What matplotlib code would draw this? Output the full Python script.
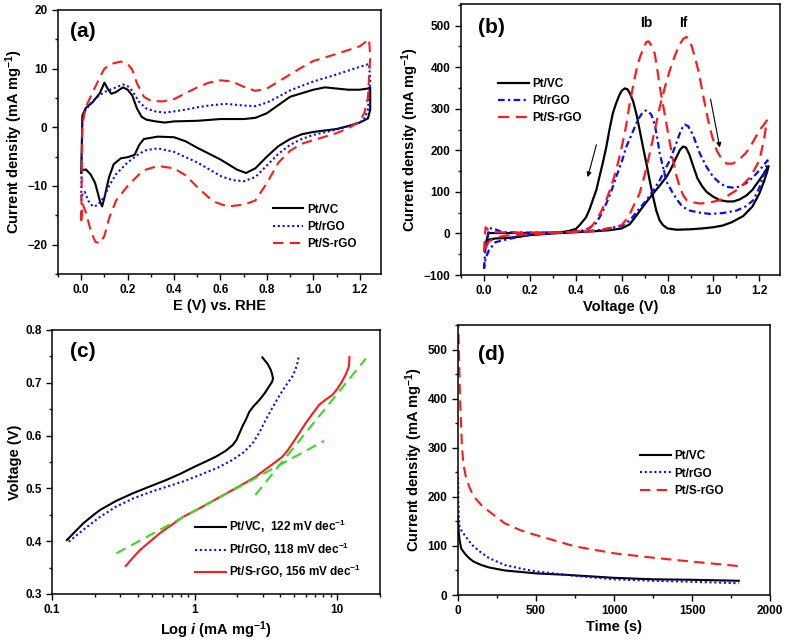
import matplotlib
matplotlib.use("Agg")
import matplotlib.pyplot as plt
from matplotlib.ticker import MultipleLocator, FuncFormatter, LogLocator

plt.rcParams['font.family'] = ['Liberation Sans', 'DejaVu Sans']
plt.rcParams['font.weight'] = 'bold'
plt.rcParams['axes.labelweight'] = 'bold'
plt.rcParams['mathtext.fontset'] = 'custom'
plt.rcParams['mathtext.rm'] = 'Liberation Sans:bold'
plt.rcParams['mathtext.it'] = 'Liberation Sans:bold:italic'
plt.rcParams['mathtext.bf'] = 'Liberation Sans:bold'

BLACK, BLUE, RED, GREEN = 'black', '#0a0aff', '#ff1a1a', '#33dd22'
labels = ['Pt/VC', 'Pt/rGO', 'Pt/S-rGO']

# ---------------- (a) CV in N2 ----------------
a_vc_e = [0.0, 0.005, 0.02, 0.05, 0.08, 0.1, 0.115, 0.13, 0.15, 0.18, 0.2, 0.22, 0.24,
          0.26, 0.28, 0.32, 0.36, 0.4, 0.5, 0.6, 0.7, 0.75, 0.8, 0.85, 0.9, 0.95, 1.0,
          1.05, 1.1, 1.15, 1.2, 1.235, 1.245, 1.245, 1.235, 1.2, 1.15, 1.1, 1.0, 0.95,
          0.9, 0.85, 0.8, 0.75, 0.71, 0.67, 0.6, 0.5, 0.45, 0.4, 0.33, 0.27, 0.25, 0.23,
          0.2, 0.17, 0.14, 0.12, 0.1, 0.09, 0.08, 0.06, 0.04, 0.02, 0.005]
a_vc_j = [-7.8, 2.0, 3.3, 4.3, 5.8, 7.6, 6.5, 5.7, 6.0, 6.8, 6.4, 5.4, 3.2,
          1.8, 1.3, 1.0, 0.8, 1.0, 1.1, 1.4, 1.4, 1.6, 2.4, 3.8, 5.2, 5.8, 6.4,
          6.8, 6.6, 6.4, 6.4, 6.6, 6.8, 3.0, 1.5, 0.8, 0.2, -0.3, -0.8, -1.2,
          -2.0, -3.2, -5.0, -7.0, -7.8, -7.2, -5.5, -3.5, -2.4, -1.7, -1.6, -2.0, -3.0, -4.7,
          -5.1, -5.3, -6.3, -8.5, -12.0, -13.5, -12.5, -9.5, -8.0, -7.2, -7.3]

a_rgo_e = [0.0, 0.005, 0.02, 0.05, 0.08, 0.1, 0.13, 0.15, 0.18, 0.2, 0.22, 0.25, 0.28,
           0.32, 0.36, 0.4, 0.45, 0.5, 0.55, 0.62, 0.7, 0.75, 0.8, 0.85, 0.9, 1.0, 1.1,
           1.2, 1.24, 1.245, 1.235, 1.22, 1.2, 1.15, 1.1, 1.0, 0.95, 0.9, 0.85, 0.8, 0.75,
           0.7, 0.65, 0.6, 0.5, 0.4, 0.33, 0.28, 0.25, 0.2, 0.15, 0.12, 0.1, 0.07, 0.05,
           0.03, 0.015, 0.005, 0.0]
a_rgo_j = [-12.0, 1.5, 3.0, 4.5, 5.5, 6.0, 6.5, 6.8, 7.3, 7.0, 6.2, 4.3, 3.2,
           2.7, 2.5, 2.7, 3.0, 3.4, 3.7, 4.0, 3.7, 3.6, 4.2, 5.2, 6.3, 7.8, 9.0,
           10.3, 10.8, 8.0, 3.0, 1.5, 0.8, 0.2, -0.4, -1.3, -2.0, -3.0, -4.5, -6.5, -8.5,
           -9.2, -9.0, -8.3, -6.0, -4.2, -3.6, -3.9, -4.5, -6.0, -8.0, -10.0, -11.8, -13.3, -13.5,
           -12.5, -11.0, -11.5, -12.5]

a_srgo_e = [0.0, 0.005, 0.02, 0.05, 0.08, 0.1, 0.13, 0.17, 0.2, 0.22, 0.24, 0.27, 0.3,
            0.35, 0.4, 0.45, 0.5, 0.55, 0.6, 0.65, 0.7, 0.75, 0.8, 0.85, 0.9, 0.95, 1.0,
            1.1, 1.2, 1.24, 1.245, 1.235, 1.22, 1.2, 1.15, 1.1, 1.0, 0.95, 0.9, 0.85, 0.8,
            0.75, 0.7, 0.63, 0.58, 0.55, 0.5, 0.45, 0.4, 0.33, 0.28, 0.25, 0.2, 0.15, 0.12,
            0.1, 0.08, 0.06, 0.04, 0.02, 0.005, 0.0]
a_srgo_j = [-16.0, 0.5, 3.5, 6.0, 8.5, 10.0, 10.8, 11.2, 10.8, 9.8, 7.5, 5.2, 4.5,
            4.4, 4.8, 5.8, 6.8, 7.6, 8.0, 7.8, 6.9, 6.2, 6.6, 7.8, 9.0, 10.2, 11.3,
            12.5, 13.8, 15.0, 12.0, 5.0, 2.5, 1.0, -0.2, -1.0, -2.2, -2.8, -4.0, -6.0, -9.5,
            -12.5, -13.2, -13.5, -12.8, -12.0, -10.2, -8.2, -7.0, -6.6, -7.2, -8.0, -10.0, -12.5, -15.5,
            -18.5, -19.8, -19.5, -17.5, -14.5, -13.0, -16.0]

# ---------------- (b) methanol oxidation CV ----------------
b_vc_e = [0.005, 0.02, 0.05, 0.1, 0.15, 0.2, 0.3, 0.4, 0.5, 0.55, 0.6, 0.635, 0.66,
          0.68, 0.7, 0.737, 0.77, 0.795, 0.81, 0.824, 0.84, 0.855, 0.868, 0.88, 0.895,
          0.91, 0.93, 0.95, 0.97, 1.0, 1.028, 1.06, 1.087, 1.115, 1.145, 1.17, 1.189,
          1.215, 1.24, 1.235, 1.22, 1.2, 1.17, 1.13, 1.08, 1.04, 1.0, 0.95, 0.9, 0.84,
          0.8, 0.78, 0.765, 0.751, 0.737, 0.722, 0.708, 0.693, 0.678, 0.664, 0.65, 0.635,
          0.625, 0.613, 0.6, 0.59, 0.575, 0.561, 0.547, 0.533, 0.518, 0.503, 0.49, 0.474,
          0.46, 0.445, 0.42, 0.401, 0.37, 0.35, 0.3, 0.2, 0.1, 0.05, 0.02, 0.005]
b_vc_j = [-29, -15, -12, -11, -8, -4, 0, 3, 6, 8, 12, 22, 40,
          55, 70, 96, 118, 136, 150, 166, 185, 202, 209, 207, 190,
          165, 133, 114, 100, 88, 80, 77, 77, 82, 92, 105, 120,
          140, 162, 150, 125, 96, 65, 42, 27, 19, 15, 12, 10, 9,
          12, 20, 32, 55, 88, 128, 168, 208, 250, 288, 318, 338,
          347, 349, 343, 333, 312, 288, 250, 208, 170, 136, 105, 80,
          58, 39, 22, 11, 6, 4, 2, 1, 1, 1, 1, -29]

b_rgo_e = [0.0, 0.007, 0.022, 0.036, 0.08, 0.2, 0.3, 0.4, 0.5, 0.6, 0.635, 0.67, 0.708,
           0.74, 0.766, 0.79, 0.81, 0.83, 0.853, 0.865, 0.875, 0.89, 0.91, 0.941, 0.97,
           0.999, 1.03, 1.058, 1.09, 1.116, 1.145, 1.174, 1.205, 1.236, 1.23, 1.2, 1.174,
           1.14, 1.1, 1.04, 0.985, 0.94, 0.897, 0.87, 0.86, 0.84, 0.82, 0.795, 0.78, 0.766,
           0.755, 0.744, 0.73, 0.715, 0.705, 0.69, 0.676, 0.664, 0.645, 0.62, 0.6, 0.576,
           0.555, 0.533, 0.51, 0.489, 0.46, 0.43, 0.4, 0.3, 0.2, 0.11, 0.05, 0.022, 0.007, 0.0]
b_rgo_j = [-85, -33, 11, 13, 3, 2, 2, 4, 8, 18, 31, 55, 80,
           105, 128, 155, 176, 205, 240, 255, 262, 258, 238, 192, 160,
           136, 120, 112, 110, 113, 122, 136, 155, 176, 160, 110, 80,
           65, 55, 49, 47, 50, 55, 63, 68, 82, 100, 125, 160, 192,
           230, 262, 285, 295, 296, 290, 278, 265, 240, 208, 172, 136,
           102, 72, 45, 25, 13, 7, 4, 1, -3, -13, -21, -40, -60, -85]

b_srgo_e = [0.0, 0.007, 0.02, 0.05, 0.1, 0.2, 0.3, 0.4, 0.5, 0.6, 0.63, 0.649, 0.678,
            0.7, 0.722, 0.745, 0.766, 0.79, 0.81, 0.83, 0.85, 0.868, 0.883, 0.9, 0.919,
            0.935, 0.948, 0.963, 0.977, 0.995, 1.014, 1.035, 1.058, 1.085, 1.116, 1.14,
            1.16, 1.18, 1.2, 1.22, 1.233, 1.22, 1.2, 1.18, 1.16, 1.13, 1.1, 1.06, 1.028,
            0.98, 0.941, 0.91, 0.883, 0.868, 0.853, 0.838, 0.824, 0.81, 0.795, 0.78, 0.766,
            0.755, 0.744, 0.73, 0.718, 0.708, 0.695, 0.68, 0.664, 0.65, 0.635, 0.625, 0.613,
            0.595, 0.576, 0.555, 0.533, 0.51, 0.489, 0.47, 0.45, 0.4, 0.3, 0.2, 0.1,
            0.05, 0.02, 0.0]
b_srgo_j = [-45, 15, 8, 3, 2, 2, 2, 4, 6, 20, 40, 63, 96,
            140, 192, 250, 304, 355, 393, 425, 452, 468, 473, 460, 425,
            390, 353, 310, 272, 232, 200, 180, 168, 168, 180, 193,
            208, 228, 248, 262, 272, 225, 176, 155, 136, 118, 104, 90, 80,
            74, 72, 75, 80, 92, 112, 140, 176, 218, 264, 310, 353,
            395, 433, 452, 462, 461, 445, 425, 393, 355, 313, 278, 240,
            195, 152, 114, 80, 52, 31, 18, 10, 4, 1, -2, -5,
            -10, -20, -45]

# ---------------- (c) Tafel ----------------
c_vc_i = [0.127, 0.145, 0.166, 0.19, 0.217, 0.28, 0.371, 0.5, 0.635, 0.8, 1.0, 1.2, 1.41,
          1.65, 1.85, 1.97, 2.06, 2.17, 2.29, 2.42, 2.6, 2.84, 3.1, 3.33, 3.5, 3.55, 3.5,
          3.43, 3.25, 2.99]
c_vc_v = [0.402, 0.418, 0.434, 0.447, 0.459, 0.476, 0.491, 0.505, 0.516, 0.528, 0.541,
          0.551, 0.560, 0.571, 0.582, 0.592, 0.604, 0.618, 0.630, 0.645, 0.656, 0.667,
          0.680, 0.693, 0.702, 0.708, 0.716, 0.724, 0.736, 0.748]
c_rgo_i = [0.131, 0.17, 0.217, 0.28, 0.371, 0.5, 0.635, 0.85, 1.08, 1.45, 1.85, 2.2,
           2.55, 2.85, 3.16, 3.5, 3.9, 4.35, 4.85, 5.1, 5.26, 5.4]
c_rgo_v = [0.399, 0.424, 0.446, 0.465, 0.481, 0.494, 0.503, 0.514, 0.525, 0.539, 0.554,
           0.568, 0.585, 0.606, 0.630, 0.652, 0.674, 0.694, 0.712, 0.725, 0.737, 0.753]
c_srgo_i = [0.329, 0.37, 0.413, 0.49, 0.57, 0.7, 0.83, 1.08, 1.4, 1.85, 2.25, 2.68, 3.0,
            3.33, 3.7, 4.13, 4.5, 4.85, 5.4, 6.0, 6.7, 7.47, 8.3, 9.26, 10.0, 10.8, 11.5,
            12.1, 12.2]
c_srgo_v = [0.353, 0.369, 0.383, 0.400, 0.415, 0.432, 0.446, 0.462, 0.479, 0.497, 0.510,
            0.522, 0.532, 0.541, 0.550, 0.560, 0.572, 0.585, 0.604, 0.623, 0.641, 0.658,
            0.668, 0.677, 0.688, 0.702, 0.716, 0.731, 0.749]
c_fit1_i = [0.283, 8.11]
c_fit1_v = [0.377, 0.590]
c_fit2_i = [2.67, 15.9]
c_fit2_v = [0.4875, 0.746]
c_labels = ['Pt/VC,  122 mV dec$^{-1}$', 'Pt/rGO, 118 mV dec$^{-1}$',
            'Pt/S-rGO, 156 mV dec$^{-1}$']

# ---------------- (d) chronoamperometry ----------------
d_vc_t = [0, 2, 5, 10, 20, 35, 50, 75, 100, 150, 200, 300, 400, 500, 700, 1000, 1250,
          1500, 1800]
d_vc_j = [155, 140, 125, 112, 95, 88, 82, 74, 68, 61, 56, 50, 47, 44, 41, 35, 32, 31, 29]
d_rgo_t = [0, 2, 5, 10, 25, 50, 75, 100, 150, 200, 300, 400, 500, 750, 1000, 1250, 1500,
           1800]
d_rgo_j = [240, 190, 160, 139, 129, 119, 108, 99, 86, 75, 61, 54, 48, 39, 32, 29, 27, 24]
d_srgo_t = [0, 3, 6, 13, 25, 35, 50, 75, 100, 150, 200, 300, 400, 500, 750, 1000, 1250,
            1500, 1800]
d_srgo_j = [600, 540, 494, 398, 303, 265, 241, 218, 201, 183, 170, 146, 132, 122, 99, 85,
            76, 68, 59]

fig = plt.figure(figsize=(7.87, 6.4), dpi=100)
ax_a = fig.add_axes([0.0737, 0.572, 0.410, 0.4125])
ax_b = fig.add_axes([0.5858, 0.5703, 0.4053, 0.4234])
ax_c = fig.add_axes([0.0661, 0.0719, 0.4168, 0.4125])
ax_d = fig.add_axes([0.582, 0.0703, 0.3964, 0.4219])

ylab = 'Current density (mA mg$^{-1}$)'
styles = [dict(color=BLACK, ls='-'),
          dict(color=BLUE, ls=(0, (1, 1.3))),
          dict(color=RED, ls=(0, (5, 3)))]


def style_axis(ax):
    for s in ax.spines.values():
        s.set_linewidth(1.1)
    ax.tick_params(which='both', direction='out', labelsize=8.5, width=1,
                   top=False, right=False)
    ax.tick_params(which='major', length=4)
    ax.tick_params(which='minor', length=2.5)
    for lab in ax.get_xticklabels() + ax.get_yticklabels():
        lab.set_fontweight('bold')


def panel_legend(ax, x, y):
    ax.legend(loc='center left', bbox_to_anchor=(x, y), frameon=False,
              fontsize=8.5, handlelength=2.6, handletextpad=0.3,
              labelspacing=0.45, borderpad=0, borderaxespad=0)


# (a)
for e, j, st, lab in zip([a_vc_e, a_rgo_e, a_srgo_e], [a_vc_j, a_rgo_j, a_srgo_j],
                         styles, labels):
    ax_a.plot(e, j, lw=1.5, label=lab, **st)
ax_a.set_xlim(-0.1, 1.29)
ax_a.set_ylim(-25, 20)
ax_a.xaxis.set_major_locator(MultipleLocator(0.2))
ax_a.xaxis.set_minor_locator(MultipleLocator(0.1))
ax_a.yaxis.set_major_locator(MultipleLocator(10))
ax_a.yaxis.set_minor_locator(MultipleLocator(5))
ax_a.xaxis.set_major_formatter(FuncFormatter(lambda v, p: f'{v:.1f}'))
ax_a.set_xlabel('E (V) vs. RHE', fontsize=10.5, labelpad=2)
ax_a.set_ylabel(ylab, fontsize=10.5, labelpad=2)
panel_legend(ax_a, 0.665, 0.178)
ax_a.text(0.037, 0.92, '(a)', transform=ax_a.transAxes, fontsize=15,
          fontweight='bold', va='center', ha='left')

# (b)
b_styles = [dict(color=BLACK, ls='-'),
            dict(color=BLUE, ls=(0, (3, 1.5, 1, 1.5))),
            dict(color=RED, ls=(0, (5, 3)))]
for e, j, st, lab in zip([b_vc_e, b_rgo_e, b_srgo_e], [b_vc_j, b_rgo_j, b_srgo_j],
                         b_styles, labels):
    ax_b.plot(e, j, lw=1.6, label=lab, **st)
ax_b.set_xlim(-0.1, 1.29)
ax_b.set_ylim(-100, 552)
ax_b.xaxis.set_major_locator(MultipleLocator(0.2))
ax_b.xaxis.set_minor_locator(MultipleLocator(0.1))
ax_b.yaxis.set_major_locator(MultipleLocator(100))
ax_b.yaxis.set_minor_locator(MultipleLocator(50))
ax_b.xaxis.set_major_formatter(FuncFormatter(lambda v, p: f'{v:.1f}'))
ax_b.set_xlabel('Voltage (V)', fontsize=10.5, labelpad=2)
ax_b.set_ylabel(ylab, fontsize=10.5, labelpad=2)
panel_legend(ax_b, 0.116, 0.642)
ax_b.text(0.053, 0.915, '(b)', transform=ax_b.transAxes, fontsize=15,
          fontweight='bold', va='center', ha='left')
ax_b.text(0.707, 506, 'Ib', fontsize=10, fontweight='bold', ha='center', va='center')
ax_b.text(0.868, 506, 'If', fontsize=10, fontweight='bold', ha='center', va='center')
ax_b.annotate('', xy=(0.449, 129), xytext=(0.493, 220),
              arrowprops=dict(arrowstyle='-|>', lw=0.8, color='black',
                              mutation_scale=7))
ax_b.annotate('', xy=(1.03, 200), xytext=(0.985, 330),
              arrowprops=dict(arrowstyle='-|>', lw=0.8, color='black',
                              mutation_scale=7))

# (c)
c_styles = [dict(color=BLACK, ls='-'),
            dict(color=BLUE, ls=(0, (1, 1.3))),
            dict(color=RED, ls='-')]
for i, v, st, lab in zip([c_vc_i, c_rgo_i, c_srgo_i], [c_vc_v, c_rgo_v, c_srgo_v],
                         c_styles, c_labels):
    ax_c.plot(i, v, lw=1.5, label=lab, **st)
ax_c.plot(c_fit1_i, c_fit1_v, color=GREEN, lw=1.5, ls=(0, (5, 3)))
ax_c.plot(c_fit2_i, c_fit2_v, color=GREEN, lw=1.5, ls=(0, (5, 3)))
ax_c.set_xscale('log')
ax_c.set_xlim(0.1, 20)
ax_c.set_ylim(0.3, 0.8)
ax_c.xaxis.set_major_locator(LogLocator(base=10))
ax_c.xaxis.set_minor_locator(LogLocator(base=10, subs=range(2, 10)))
ax_c.xaxis.set_major_formatter(FuncFormatter(lambda v, p: f'{v:g}'))
ax_c.xaxis.set_minor_formatter(FuncFormatter(lambda v, p: ''))
ax_c.yaxis.set_major_locator(MultipleLocator(0.1))
ax_c.yaxis.set_minor_locator(MultipleLocator(0.05))
ax_c.yaxis.set_major_formatter(FuncFormatter(lambda v, p: f'{v:.1f}'))
ax_c.set_xlabel('Log $\\mathit{i}$ (mA mg$^{-1}$)', fontsize=10.5, labelpad=2)
ax_c.set_ylabel('Voltage (V)', fontsize=10.5, labelpad=2)
panel_legend(ax_c, 0.436, 0.17)
ax_c.text(0.055, 0.917, '(c)', transform=ax_c.transAxes, fontsize=15,
          fontweight='bold', va='center', ha='left')

# (d)
for t, j, st, lab in zip([d_vc_t, d_rgo_t, d_srgo_t], [d_vc_j, d_rgo_j, d_srgo_j],
                         styles, labels):
    ax_d.plot(t, j, lw=1.5, label=lab, **st)
ax_d.set_xlim(0, 2000)
ax_d.set_ylim(0, 550)
ax_d.xaxis.set_major_locator(MultipleLocator(500))
ax_d.xaxis.set_minor_locator(MultipleLocator(250))
ax_d.yaxis.set_major_locator(MultipleLocator(100))
ax_d.yaxis.set_minor_locator(MultipleLocator(50))
ax_d.set_xlabel('Time (s)', fontsize=10.5, labelpad=2)
ax_d.set_ylabel(ylab, fontsize=10.5, labelpad=2)
panel_legend(ax_d, 0.583, 0.45)
ax_d.text(0.064, 0.889, '(d)', transform=ax_d.transAxes, fontsize=15,
          fontweight='bold', va='center', ha='left')

for ax in (ax_a, ax_b, ax_c, ax_d):
    style_axis(ax)

fig.savefig('out.png', dpi=100)
